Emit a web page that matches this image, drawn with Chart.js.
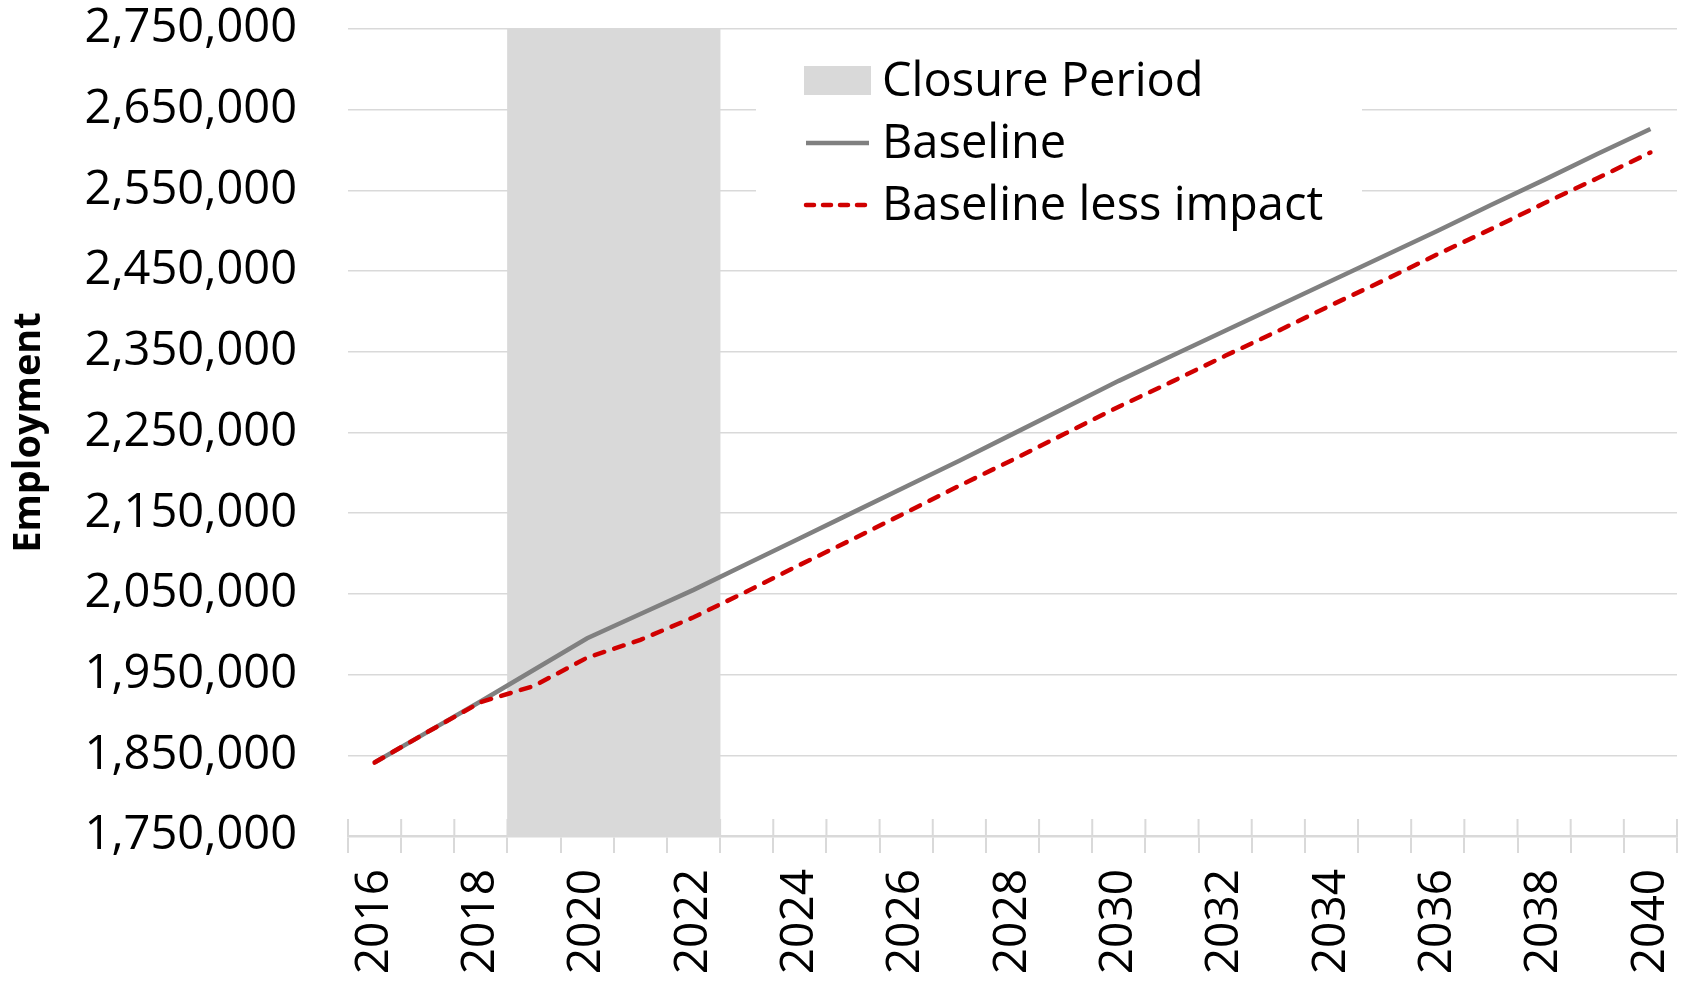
<!DOCTYPE html>
<html>
<head>
<meta charset="utf-8">
<script src="https://cdn.jsdelivr.net/npm/chart.js@4.4.1/dist/chart.umd.min.js"></script>
<style>
  html, body { margin: 0; padding: 0; background: #ffffff; }
  #wrap { width: 1682px; height: 982px; }
</style>
</head>
<body>
<div id="wrap"><canvas id="employment-chart"></canvas></div>
<script>
// employment projection chart
const years = [
  "2016", "2017", "2018", "2019", "2020", "2021", "2022", "2023", "2024",
  "2025", "2026", "2027", "2028", "2029", "2030", "2031", "2032", "2033",
  "2034", "2035", "2036", "2037", "2038", "2039", "2040"
];
const baseline = [
  1841000, 1879000, 1917000, 1956000, 1995000, 2025000, 2055000, 2087000,
  2119000, 2151000, 2183000, 2215000, 2248000, 2281000, 2314000, 2345000,
  2376000, 2407000, 2438000, 2469000, 2500000, 2532000, 2563000, 2595000,
  2626000
];
const baselineLessImpact = [
  1841000, 1879000, 1916000, 1936000, 1971000, 1993000, 2021000, 2053000,
  2086000, 2118000, 2151000, 2184000, 2216000, 2249000, 2282000, 2313000,
  2345000, 2376000, 2408000, 2439000, 2471000, 2502000, 2534000, 2565000,
  2597000
];
// shaded closure years 2019-2022
const closurePeriod = [
  null, null, null, 2750000, 2750000, 2750000, 2750000, null, null, null,
  null, null, null, null, null, null, null, null, null, null, null, null,
  null, null, null
];
const yMin = 1750000;
const yMax = 2750000;
const yStep = 100000;

const FONT = "'Open Sans', 'Noto Sans', sans-serif";
const GRID = "#d9d9d9";

// short tick marks above the x axis line (Excel "cross" ticks)
const crossTicks = {
  id: "crossTicks",
  beforeDatasetsDraw(chart) {
    const x = chart.scales.x;
    const ctx = chart.ctx;
    const n = x.ticks.length;
    const step = x.width / n;
    ctx.save();
    ctx.strokeStyle = GRID;
    ctx.lineWidth = 2;
    ctx.beginPath();
    for (let i = 0; i <= n; i++) {
      const px = x.left + i * step;
      ctx.moveTo(px, x.top - 17);
      ctx.lineTo(px, x.top);
    }
    ctx.stroke();
    ctx.restore();
  },
};

// legend drawn inside the plot, on a white box
const insideLegend = {
  id: "insideLegend",
  afterDatasetsDraw(chart) {
    const { ctx, chartArea } = chart;
    const ds = chart.data.datasets;
    const items = [ds[2], ds[0], ds[1]];
    const boxLeft = chartArea.left + 408;
    const boxTop = chartArea.top + 16;
    const swatchLeft = chartArea.left + 456;
    const swatchW = 67;
    const textLeft = chartArea.left + 534;

    ctx.save();
    ctx.fillStyle = "#ffffff";
    ctx.fillRect(boxLeft, boxTop, 606, 196);
    ctx.font = "47px " + FONT;
    ctx.textBaseline = "middle";
    ctx.textAlign = "left";

    items.forEach((item, i) => {
      const cy = chartArea.top + 52 + i * 62;
      if (item.type === "bar") {
        ctx.fillStyle = item.backgroundColor;
        ctx.fillRect(swatchLeft, cy - 15, swatchW, 29);
      } else {
        ctx.strokeStyle = item.borderColor;
        ctx.lineWidth = item.borderWidth;
        ctx.lineCap = item.borderCapStyle || "butt";
        ctx.setLineDash(item.borderDash ? [8, 9] : []);
        ctx.beginPath();
        ctx.moveTo(swatchLeft + 2, cy);
        ctx.lineTo(swatchLeft + swatchW - 2, cy);
        ctx.stroke();
        ctx.setLineDash([]);
      }
      ctx.fillStyle = "#000000";
      ctx.fillText(item.label, textLeft, cy + 2);
    });
    ctx.restore();
  },
};

const ctx = document.getElementById("employment-chart").getContext("2d");
new Chart(ctx, {
  type: "line",
  data: {
    labels: years,
    datasets: [
      {
        label: "Baseline",
        data: baseline,
        borderColor: "#808080",
        borderWidth: 4.5,
        pointRadius: 0,
        tension: 0,
        order: 1,
      },
      {
        label: "Baseline less impact",
        data: baselineLessImpact,
        borderColor: "#d00000",
        borderWidth: 4.5,
        borderDash: [10, 10.5],
        borderCapStyle: "round",
        pointRadius: 0,
        tension: 0,
        order: 0,
      },
      {
        type: "bar",
        label: "Closure Period",
        data: closurePeriod,
        base: yMin,
        backgroundColor: "#d9d9d9",
        borderWidth: 0,
        barPercentage: 1,
        categoryPercentage: 1,
        order: 2,
      },
    ],
  },
  options: {
    responsive: true,
    maintainAspectRatio: false,
    animation: false,
    events: [],
    layout: {
      padding: { top: 29, right: 5, left: 0, bottom: 0 },
    },
    plugins: {
      legend: { display: false },
      tooltip: { enabled: false },
    },
    scales: {
      x: {
        type: "category",
        offset: true,
        grid: {
          offset: true,
          drawOnChartArea: false,
          drawTicks: true,
          tickLength: 17,
          color: GRID,
          lineWidth: 2,
        },
        border: { display: true, color: GRID, width: 2.5 },
        ticks: {
          autoSkip: false,
          minRotation: 90,
          maxRotation: 90,
          padding: 16,
          color: "#000000",
          font: { family: FONT, size: 46 },
          callback: function (value, index) {
            return index % 2 === 0 ? this.getLabelForValue(value) : "";
          },
        },
        afterFit(scale) {
          scale.height = 146;
          scale.paddingLeft = 0;
          scale.paddingRight = 0;
        },
      },
      y: {
        min: yMin,
        max: yMax,
        grid: {
          color: GRID,
          lineWidth: 1.5,
          drawTicks: false,
        },
        border: { display: false },
        ticks: {
          stepSize: yStep,
          padding: 51,
          color: "#000000",
          font: { family: FONT, size: 47 },
          callback: (v) => v.toLocaleString("en-US"),
        },
        title: {
          display: true,
          text: "Employment",
          color: "#000000",
          font: { family: FONT, size: 38, weight: "bold" },
          padding: { top: 6, bottom: 0 },
        },
        afterFit(scale) {
          scale.width = 348;
          scale.paddingTop = 0;
          scale.paddingBottom = 0;
        },
      },
    },
  },
  plugins: [crossTicks, insideLegend],
});
</script>
</body>
</html>
